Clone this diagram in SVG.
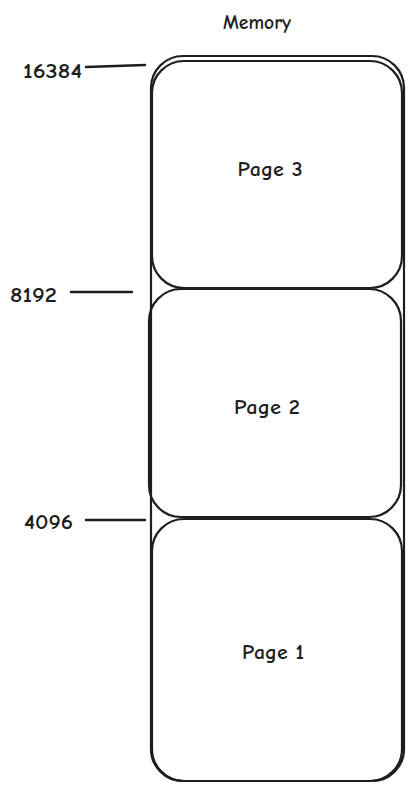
<svg xmlns="http://www.w3.org/2000/svg" width="413" height="792" viewBox="0 0 413 792">
<style>
.box{fill:none;stroke:#1e1e1e;stroke-width:2.2}
.line{stroke:#1e1e1e;stroke-width:2.5;stroke-linecap:round}
text{font-family:"Comic Neue","Liberation Sans",sans-serif;font-size:20px;font-weight:bold;fill:#1e1e1e}
.c{text-anchor:middle}
</style>
<rect width="413" height="792" fill="#ffffff"/>
<g id="memory">
<rect class="box" x="151" y="56" width="253" height="725" rx="32"/>
<text class="c" x="257" y="29" textLength="68" lengthAdjust="spacingAndGlyphs">Memory</text>
</g>
<g id="page3">
<rect class="box" x="152" y="61" width="250" height="227" rx="32"/>
<text class="c" x="270" y="176" textLength="65" lengthAdjust="spacingAndGlyphs">Page 3</text>
</g>
<g id="page2">
<rect class="box" x="149" y="289" width="252" height="228" rx="32"/>
<text class="c" x="267" y="414" textLength="66" lengthAdjust="spacingAndGlyphs">Page 2</text>
</g>
<g id="page1">
<rect class="box" x="152" y="519" width="250" height="262" rx="32"/>
<text class="c" x="273" y="659" textLength="62" lengthAdjust="spacingAndGlyphs">Page 1</text>
</g>
<g id="addr16384"><text x="23" y="78" textLength="59" lengthAdjust="spacingAndGlyphs">16384</text></g>
<g id="addr8192"><text x="10" y="302" textLength="47" lengthAdjust="spacingAndGlyphs">8192</text></g>
<g id="addr4096"><text x="24" y="529" textLength="49" lengthAdjust="spacingAndGlyphs">4096</text></g>
<g id="connectors">
<line class="line" x1="86" y1="67" x2="145" y2="65"/>
<line class="line" x1="71" y1="292" x2="132" y2="292"/>
<line class="line" x1="86" y1="520" x2="145" y2="520"/>
</g>
</svg>
